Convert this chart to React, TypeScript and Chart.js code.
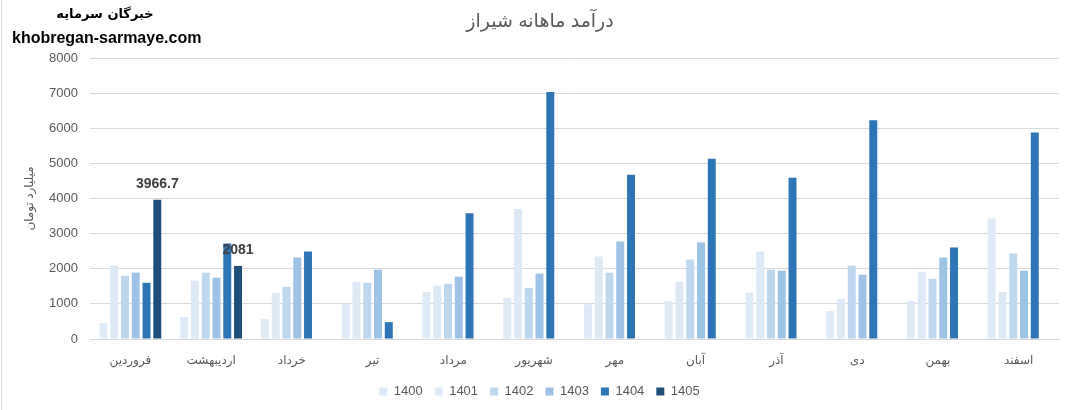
import React, { useEffect, useRef } from "react";
import { Chart, registerables } from "chart.js";

Chart.register(...registerables);

const months = ["فروردین", "اردیبهشت", "خرداد", "تیر", "مرداد", "شهریور", "مهر", "آبان", "آذر", "دی", "بهمن", "اسفند"];
const years = ["1400", "1401", "1402", "1403", "1404", "1405"];
const s1400 = [450, 623, 566, 997, 1342, 1170, 990, 1083, 1313, 796, 1083, 3440];
const s1401 = [2090, 1658, 1313, 1629, 1514, 3700, 2348, 1629, 2491, 1140, 1917, 1342];
const s1402 = [1800, 1890, 1486, 1600, 1572, 1457, 1888, 2261, 1974, 2089, 1716, 2434];
const s1403 = [1890, 1744, 2319, 1974, 1773, 1860, 2779, 2750, 1945, 1830, 2319, 1945];
const s1404 = [1600, 2720, 2491, 480, 3583, 7030, 4675, 5135, 4589, 6227, 2606, 5882];
const s1405 = [3966.7, 2081, null, null, null, null, null, null, null, null, null, null];
const colors = ["#DEEBF7", "#DDEAF6", "#BDD7EE", "#9DC3E6", "#2E75B6", "#1F4E79"];
const yTicks = [0, 1000, 2000, 3000, 4000, 5000, 6000, 7000, 8000];

const title = "درآمد ماهانه شیراز";
const yTitle = "میلیارد تومان";
const FONT = "'Liberation Sans', 'DejaVu Sans', sans-serif";
const GREY = "#595959";

const labelPlugin = {
  id: "barLabels",
  afterDatasetsDraw(chart: any) {
    const ctx = chart.ctx;
    const idx = 5;
    const meta = chart.getDatasetMeta(idx);
    const data = chart.data.datasets[idx].data;
    ctx.save();
    ctx.font = "bold 14px " + FONT;
    ctx.fillStyle = "#404040";
    ctx.textAlign = "center";
    ctx.textBaseline = "middle";
    meta.data.forEach((el: any, i: number) => {
      const v = data[i];
      if (v === null || v === undefined) return;
      ctx.fillText(String(v), el.x, el.y - 16);
    });
    ctx.restore();
  },
};

const titlePlugin = {
  id: "centerTitle",
  afterDraw(chart: any) {
    const ctx = chart.ctx;
    ctx.save();
    ctx.font = "19px " + FONT;
    ctx.fillStyle = GREY;
    ctx.textAlign = "center";
    ctx.textBaseline = "middle";
    ctx.fillText(title, 540, 22);
    ctx.restore();
  },
};

export default function App() {
  const ref = useRef<HTMLCanvasElement | null>(null);
  useEffect(() => {
    if (!ref.current) return;
    const series = [s1400, s1401, s1402, s1403, s1404, s1405];
    const chart = new Chart(ref.current, {
      type: "bar",
      data: {
        labels: months,
        datasets: years.map((y, i) => ({
          label: y,
          data: series[i],
          backgroundColor: colors[i],
          borderWidth: 0,
          categoryPercentage: 0.8,
          barPercentage: 0.74,
        })),
      },
      options: {
        animation: false,
        responsive: false,
        devicePixelRatio: 1,
        layout: { padding: { left: 20, right: 8, top: 58, bottom: 2 } },
        plugins: {
          title: { display: false },
          legend: {
            position: "bottom",
            labels: {
              boxWidth: 8,
              boxHeight: 8,
              padding: 12,
              color: GREY,
              font: { family: FONT, size: 13 },
            },
          },
          tooltip: { enabled: false },
        },
        scales: {
          x: {
            grid: { display: false },
            border: { display: true, color: "#D9D9D9" },
            ticks: {
              color: GREY,
              font: { family: FONT, size: 12 },
              padding: 6,
              maxRotation: 0,
              autoSkip: false,
            },
            afterFit(scale: any) {
              scale.height = 34;
            },
          },
          y: {
            min: 0,
            max: 8000,
            afterBuildTicks(scale: any) {
              scale.ticks = yTicks.map((v) => ({ value: v }));
            },
            grid: { color: "#D9D9D9", drawTicks: false },
            border: { display: false },
            ticks: {
              color: GREY,
              font: { family: FONT, size: 13 },
              padding: 12,
              callback: (v: any) => String(v),
            },
            title: {
              display: true,
              text: yTitle,
              color: GREY,
              font: { family: FONT, size: 12 },
              padding: { top: 2, bottom: 0 },
            },
            afterFit(scale: any) {
              scale.width = 70;
            },
          },
        },
      },
      plugins: [labelPlugin, titlePlugin],
    });
    return () => chart.destroy();
  }, []);

  return (
    <div
      style={{
        position: "absolute",
        left: 0,
        top: 0,
        width: 1067,
        height: 410,
        background: "#fff",
        overflow: "hidden",
      }}
    >
      <canvas ref={ref} width={1067} height={410} style={{ width: 1067, height: 410, display: "block" }} />
      <div style={{ position: "absolute", left: 1, top: 0, width: 1, height: 410, background: "#D9D9D9" }} />
      <div
        style={{
          position: "absolute",
          left: 40,
          top: 4,
          width: 130,
          textAlign: "center",
          direction: "rtl",
          fontFamily: "'DejaVu Sans', sans-serif",
          fontWeight: "bold",
          fontSize: 13,
          color: "#000",
          lineHeight: "20px",
        }}
      >
        خبرگان سرمایه
      </div>
      <div
        style={{
          position: "absolute",
          left: 12,
          top: 28,
          fontFamily: FONT,
          fontWeight: "bold",
          fontSize: 16,
          color: "#000",
          lineHeight: "20px",
          whiteSpace: "nowrap",
        }}
      >
        khobregan-sarmaye.com
      </div>
    </div>
  );
}
